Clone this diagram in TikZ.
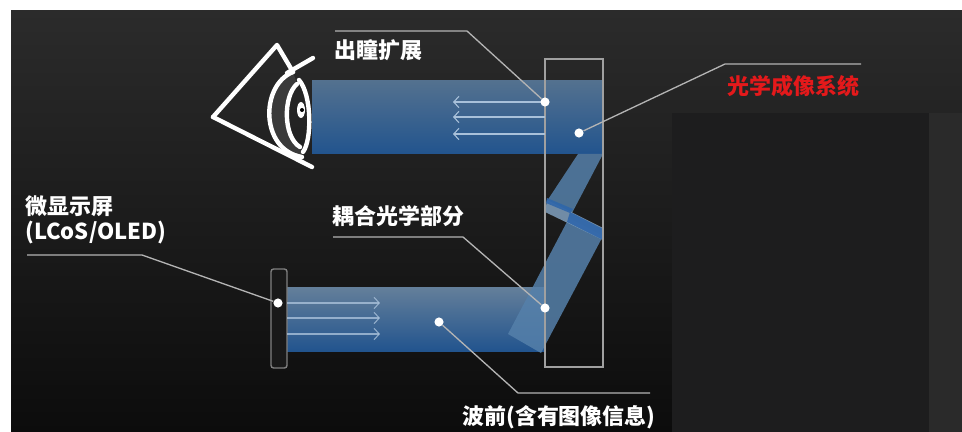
\documentclass[tikz,border=0pt]{standalone}
\usepackage{fontspec}
\usepackage{tikz}
\usetikzlibrary{arrows.meta}
\newfontfamily\cjk{Noto Sans CJK SC}
\definecolor{bgtop}{HTML}{2B2B2B}
\definecolor{bgbot}{HTML}{0C0C0C}
\definecolor{panel}{HTML}{1D1D1E}
\definecolor{sidestrip}{HTML}{2A2A2A}
\definecolor{beamtop}{HTML}{53718F}
\definecolor{beambot}{HTML}{22548E}
\definecolor{bandblue}{HTML}{5580AA}
\definecolor{mirrorblue}{HTML}{2F66AA}
\definecolor{wgline}{HTML}{A0A0A0}
\definecolor{leadgray}{HTML}{B4B4B4}
\definecolor{arrowblue}{HTML}{A9C1DA}
\definecolor{labelred}{HTML}{E4191B}
\definecolor{eyegray}{HTML}{3A3A3A}

\begin{document}
\begin{tikzpicture}[x=0.02cm,y=-0.02cm,
  spot/.style={circle,fill=white,inner sep=0pt,minimum size=5.2pt},
  leader/.style={draw=leadgray,line width=0.75pt},
  lbl/.style={font=\cjk\bfseries\fontsize{12.5}{14.5}\selectfont,text=white,inner sep=0pt,anchor=west,align=left},
  beamarrow/.style={draw=arrowblue,line width=0.6pt,-{Straight Barb[length=3pt,width=6.5pt]}},
  eyeline/.style={white,line width=2.5pt,line cap=round,line join=round}]
  \useasboundingbox (0,0) rectangle (962,432); % 画像全体の枠
  \fill[white] (0,0) rectangle (962,432); % 上と左の白い余白
  \shade[top color=bgtop,bottom color=bgbot] (11,11) rectangle (962,432); % 暗い背景（上が明るい）
  \fill[panel] (672,113) rectangle (929,432); % 右側の暗い四角
  \fill[sidestrip] (929,113) rectangle (962,432); % 右端の少し明るい帯

  % 光束
  \shade[top color=beamtop,bottom color=beambot] (312,81) rectangle (603,154); % 目へ向かう上の光束
  \shade[top color=beamtop!90!white,bottom color=beambot] (287,287) rectangle (545,351); % 微显示屏から出る下の光束
  \fill[bandblue,opacity=.85] (508,334) -- (541,353) -- (603,236) -- (569,218) -- cycle; % 斜めに上がる光束
  \fill[bandblue,opacity=.85] (578,154) -- (603,154) -- (572,213) -- (547,201) -- cycle; % 上の光束へ折り返す細い光束
  \fill[bandblue!75!white,opacity=.85] (547,200) -- (603,228) -- (603,240) -- (545,212) -- cycle; % 反射面
  \fill[mirrorblue,opacity=.9] (570,212) -- (603,229) -- (603,240) -- (567,222) -- cycle; % 反射面の濃い部分
  \fill[mirrorblue,opacity=.9] (547,198) -- (573,209) -- (570,213) -- (546,203) -- cycle; % 細い光束の下端

  % 導波路と微显示屏
  \draw[wgline,line width=0.9pt] (545,59) rectangle (603,367); % 導波路の枠
  \draw[wgline!80!black,line width=0.8pt,fill=black!90,rounded corners=1.5pt] (271,269) rectangle (287,368); % 微显示屏

  % 光束の中の矢印
  \foreach \y [count=\i] in {102,117,134} {
    \coordinate (outS\i) at (545,\y);
    \coordinate (outE\i) at (453,\y);
    \draw[beamarrow] (outS\i) -- (outE\i); % 目へ向かう矢印
  }
  \foreach \y [count=\i] in {303,318,334} {
    \coordinate (inS\i) at (287,\y);
    \coordinate (inE\i) at (380,\y);
    \draw[beamarrow,opacity=.8] (inS\i) -- (inE\i); % 導波路へ向かう矢印
  }

  % 目のアイコン
  \fill[eyegray] (293,72) .. controls (260,85) and (260,150) .. (302,157)
    -- (300,147) .. controls (283,137) and (283,96) .. (297,84) -- cycle; % 眼球の暗い三日月
  \draw[eyeline] (213,117) -- (277,45) -- (293,72); % 視野の上の線
  \draw[eyeline] (213,117) -- (312,167); % 視野の下の線
  \draw[eyeline] (287,73) -- (313,58); % まぶた
  \draw[eyeline] (293,72) .. controls (260,85) and (260,150) .. (302,157); % 眼球の外側
  \draw[eyeline] (297,84) .. controls (283,96) and (283,137) .. (300,147); % 眼球の内側
  \draw[eyeline] (299,80) .. controls (312,95) and (312,140) .. (303,152); % 角膜
  \fill[white] (301,110) ellipse [x radius=4,y radius=8]; % 瞳のまわり
  \fill[black] (302,110) circle [radius=2]; % 瞳

  % 引き出し線とラベル
  \node[spot] (expdot) at (545,102) {};
  \coordinate (expbend) at (467,31);
  \coordinate (expend) at (335,31);
  \draw[leader] (expdot) -- (expbend) -- (expend);
  \node[lbl] (explbl) at (334,50) {出瞳扩展};

  \node[spot] (sysdot) at (579,133) {};
  \coordinate (sysbend) at (725,64);
  \coordinate (sysend) at (861,64);
  \draw[leader] (sysdot) -- (sysbend) -- (sysend);
  \node[lbl,text=labelred] (syslbl) at (727,86) {光学成像系统};

  \node[spot] (mdpdot) at (278,303) {};
  \coordinate (mdpbend) at (142,255);
  \coordinate (mdpend) at (27,255);
  \draw[leader] (mdpdot) -- (mdpbend) -- (mdpend);
  \node[lbl] (mdplbl) at (25,220) {微显示屏\\(LCoS/OLED)};

  \node[spot] (cpldot) at (545,308) {};
  \coordinate (cplbend) at (463,237);
  \coordinate (cplend) at (333,237);
  \draw[leader] (cpldot) -- (cplbend) -- (cplend);
  \node[lbl] (cpllbl) at (332,216) {耦合光学部分};

  \node[spot] (wfdot) at (439,322) {};
  \coordinate (wfbend) at (518,393);
  \coordinate (wfend) at (650,393);
  \draw[leader] (wfdot) -- (wfbend) -- (wfend);
  \node[lbl] (wflbl) at (462,417) {波前(含有图像信息)};
\end{tikzpicture}
\end{document}
